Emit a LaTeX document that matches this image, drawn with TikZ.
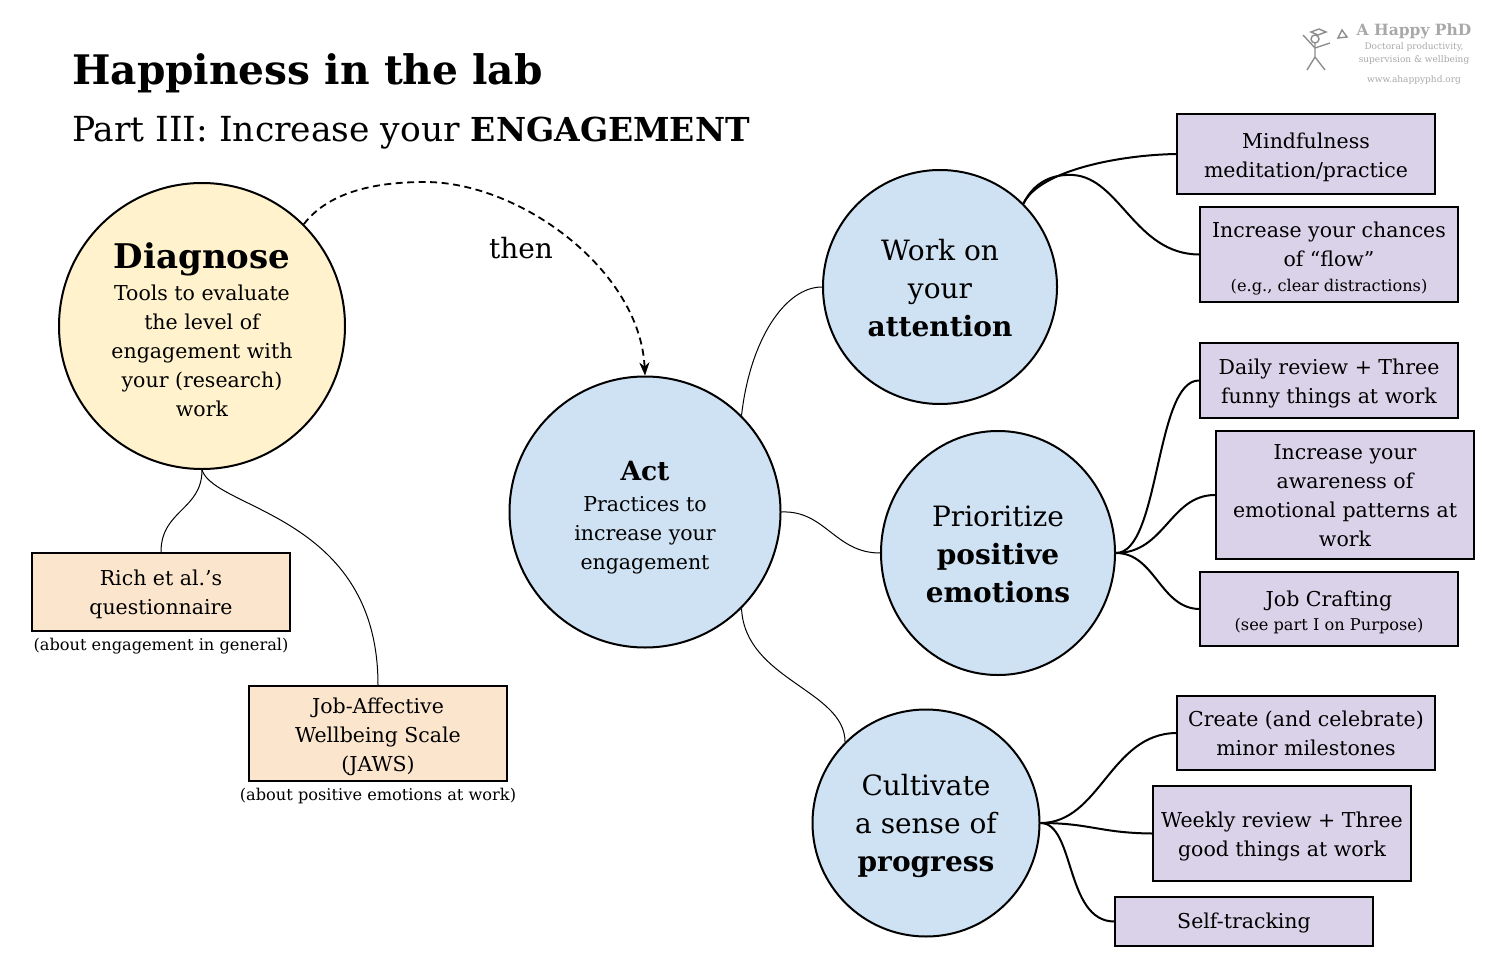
\documentclass[tikz,border=0pt]{standalone}
\usepackage{fontspec}
\setmainfont{DejaVu Serif}
\usetikzlibrary{arrows.meta, shapes.geometric}
\definecolor{circblue}{HTML}{CFE2F3}
\definecolor{circyellow}{HTML}{FFF2CC}
\definecolor{boxpurple}{HTML}{D9D2E9}
\definecolor{boxorange}{HTML}{FCE5CD}
\definecolor{logogray}{HTML}{A8A8A8}
\definecolor{figgray}{HTML}{8C8C8C}
\newcommand{\txtbody}{\fontsize{20.5}{29}\selectfont}
\newcommand{\txtsmall}{\fontsize{16.2}{24}\selectfont}
\newcommand{\txtcirc}{\fontsize{28}{38}\selectfont}
\newcommand{\lift}[1]{\rule{0pt}{#1pt}}
\tikzset{
  circ/.style={circle, draw, line width=2pt, inner sep=0pt, align=center, fill=circblue},
  purplebox/.style={rectangle, draw, line width=2pt, inner sep=0pt, align=center, fill=boxpurple, minimum width=258pt, font=\txtbody},
  orangebox/.style={purplebox, fill=boxorange},
  note/.style={font=\txtsmall, inner sep=0pt},
  thin link/.style={line width=1pt},
  thick link/.style={line width=2pt},
  logotxt/.style={text=logogray, inner sep=0pt, align=center},
  logofig/.style={figgray, line width=1.4pt}
}
\begin{document}
\begin{tikzpicture}[x=1pt,y=-1pt]
    \useasboundingbox (0,0) rectangle (1501,960);
    % title
    \node[anchor=base west, inner sep=0pt, font=\fontsize{40.7}{50}\selectfont\bfseries] (title) at (72,85) {Happiness in the lab};
    \node[anchor=base west, inner sep=0pt, font=\fontsize{34.5}{40}\selectfont] (subtitle) at (72,142) {Part III: Increase your {\fontsize{33}{40}\selectfont\bfseries ENGAGEMENT}};
    % circles
    \node[circ, fill=circyellow, minimum size=286pt, font=\txtbody] (diagnose) at (202,326)
        {\lift{33}{\fontsize{34}{44}\selectfont\bfseries Diagnose}\\[3pt]
         Tools to evaluate\\ the level of\\ engagement with\\ your (research)\\ work};
    \node[circ, minimum size=271pt, font=\txtbody] (act) at (645,512)
        {\lift{30}{\fontsize{26.5}{36}\selectfont\bfseries Act}\\[2pt]
         Practices to\\ increase your\\ engagement};
    \node[circ, minimum size=234pt, font=\txtcirc] (attention) at (940,287) {\lift{23}Work on\\ your\\ \textbf{attention}};
    \node[ellipse, draw, line width=2pt, inner sep=0pt, align=center, fill=circblue, minimum width=234pt, minimum height=244pt, font=\txtcirc] (emotions) at (998,553) {\lift{23.5}Prioritize\\ \textbf{positive}\\ \textbf{emotions}};
    \node[circ, minimum size=227pt, font=\txtcirc] (progress) at (926,823) {\lift{27.3}Cultivate\\ a sense of\\ \textbf{progress}};
    % left boxes
    \node[orangebox, minimum height=78pt] (rich) at (161,592) {\lift{20}Rich et al.’s\\ questionnaire};
    \node[note] (richnote) at (161,646) {(about engagement in general)};
    \node[orangebox, minimum height=95pt] (jaws) at (378,733.5) {\lift{22}Job-Affective\\ Wellbeing Scale\\ (JAWS)};
    \node[note] (jawsnote) at (378,796) {(about positive emotions at work)};
    % right boxes
    \node[purplebox, minimum height=80pt] (mindful) at (1306,154) {\lift{22}Mindfulness\\ meditation/practice};
    \node[purplebox, minimum height=95pt] (flow) at (1329,254.5) {\lift{24}Increase your chances\\ of “flow”\\[-4pt] {\txtsmall (e.g., clear distractions)}};
    \node[purplebox, minimum height=75pt] (daily) at (1329,380.5) {\lift{21}Daily review + Three\\ funny things at work};
    \node[purplebox, minimum height=128pt] (aware) at (1345,495) {\lift{17}Increase your\\ awareness of\\ emotional patterns at\\ work};
    \node[purplebox, minimum height=74pt] (craft) at (1329,609) {\lift{22}Job Crafting\\[-5pt] {\txtsmall (see part I on Purpose)}};
    \node[purplebox, minimum height=74pt] (create) at (1306,733) {Create (and celebrate)\\ minor milestones};
    \node[purplebox, minimum height=95pt] (weekly) at (1282,833.5) {\lift{22}Weekly review + Three\\ good things at work};
    \node[purplebox, minimum height=49pt] (selftrack) at (1244,921.5) {\lift{19}Self-tracking};
    % links
    \draw[thin link] (diagnose.south) .. controls (202,510) and (161,510) .. (rich.north);
    \draw[thin link] (diagnose.south) .. controls (215,510) and (378,515) .. (jaws.north);
    \draw[thin link] (act.45) .. controls (750,340) and (785,287) .. (attention.west);
    \draw[thin link] (act.east) .. controls (825,510) and (835,553) .. (emotions.west);
    \draw[thin link] (act.-45) .. controls (745,680) and (845,690) .. (progress.135);
    \draw[thick link] (attention.45) .. controls (1040,170) and (1120,155) .. (mindful.west);
    \draw[thick link] (attention.45) .. controls (1035,180) and (1055,174) .. (1073,175) .. controls (1120,178) and (1135,254) .. (flow.west);
    \draw[thick link] (emotions.east) .. controls (1160,553) and (1155,380) .. (daily.west);
    \draw[thick link] (emotions.east) .. controls (1165,553) and (1170,495) .. (aware.west);
    \draw[thick link] (emotions.east) .. controls (1155,553) and (1160,608) .. (craft.west);
    \draw[thick link] (progress.east) .. controls (1100,823) and (1110,734) .. (create.west);
    \draw[thick link] (progress.east) .. controls (1090,823) and (1100,833) .. (weekly.west);
    \draw[thick link] (progress.east) .. controls (1075,823) and (1065,921) .. (selftrack.west);
    % then
    \draw[dash pattern=on 7pt off 4.5pt, line width=1.8pt, -{Stealth[length=13pt,width=10pt,inset=4pt]}] (diagnose.north east) .. controls (330,190) and (380,182) .. (425,182) .. controls (520,182) and (640,270) .. (act.north);
    \node[font=\fontsize{28}{32}\selectfont, inner sep=0pt] (then) at (521,248) {then};
    % logo
    \node[logotxt, font=\fontsize{15.5}{18}\selectfont\bfseries] (logoname) at (1414,31) {A Happy PhD};
    \node[logotxt, font=\fontsize{9}{13}\selectfont] (logotag) at (1414,54) {Doctoral productivity,\\ supervision \& wellbeing};
    \node[logotxt, font=\fontsize{9}{11}\selectfont] (logourl) at (1414,80) {www.ahappyphd.org};
    \draw[logofig] (1315,39) circle[radius=4];
    \draw[logofig] (1315,43) -- (1315,57) -- (1307,70);
    \draw[logofig] (1315,57) -- (1325,70);
    \draw[logofig] (1303,35) -- (1315,48) -- (1330,43);
    \draw[logofig] (1311,32) -- (1319,29) -- (1326,32) -- (1318,35) -- cycle;
    \draw[logofig] (1338,38) -- (1342,30) -- (1347,37) -- cycle;
\end{tikzpicture}
\end{document}
